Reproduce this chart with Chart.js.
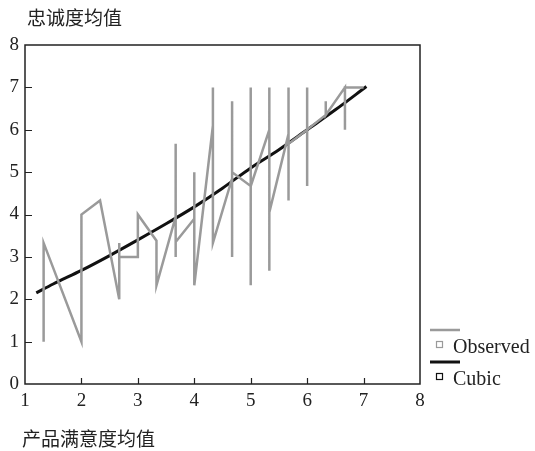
<!DOCTYPE html>
<html>
<head>
<meta charset="utf-8">
<script src="https://cdn.jsdelivr.net/npm/chart.js@4.4.1/dist/chart.umd.min.js"></script>
<style>
  html, body { margin: 0; padding: 0; background: #fff; }
  #wrap { width: 535px; height: 451px; position: relative; }
</style>
</head>
<body>
<div id="wrap"><canvas id="chart" width="535" height="451"></canvas></div>
<script>
// Observed means (x = product satisfaction mean, y = loyalty mean), in plotting order
const obsX = [1.33, 1.33, 2, 2, 2.33, 2.67, 2.67, 2.67, 3, 3, 3.33, 3.33,
              3.67, 3.67, 3.67, 3.67, 4, 4, 4, 4.33, 4.33, 4.33,
              4.67, 4.67, 4.67, 4.67, 5, 5, 5, 5, 5.33, 5.33, 5.33, 5.33,
              5.67, 5.67, 5.67, 5.67, 6, 6, 6, 6, 6.33, 6.33, 6.33,
              6.67, 6.67, 6.67, 7];
const obsY = [1.0, 3.33, 1.0, 4.0, 4.33, 2.0, 3.33, 3.0, 3.0, 4.0, 3.38, 2.33,
              3.95, 5.67, 3.0, 3.35, 3.9, 5.0, 2.33, 6.1, 7.0, 3.33,
              4.85, 6.67, 3.0, 5.0, 4.67, 7.0, 2.33, 4.67, 6.0, 7.0, 2.67, 4.05,
              5.9, 7.0, 4.33, 5.67, 6.0, 7.0, 4.67, 6.0, 6.35, 6.67, 6.35,
              7.0, 6.0, 7.0, 7.0];

// Cubic fit
const cubicX = [1.2, 1.5, 2, 2.5, 3, 3.5, 4, 4.5, 5, 5.5, 6, 6.5, 7.05];
const cubicY = [2.15, 2.36, 2.68, 3.03, 3.4, 3.78, 4.18, 4.62, 5.1, 5.53, 6.0, 6.47, 7.02];

const xTicks = [1, 2, 3, 4, 5, 6, 7, 8];
const yTicks = [0, 1, 2, 3, 4, 5, 6, 7, 8];

const yTitle = '忠诚度均值';
const xTitle = '产品满意度均值';
const legendNames = ['Observed', 'Cubic'];

const observedColor = '#9a9a9a';
const cubicColor = '#111111';
const numFont = '"Liberation Serif", "DejaVu Serif", serif';
const cjkFont = '"Noto Sans CJK SC", sans-serif';

const toPoints = (xs, ys) => xs.map((x, i) => ({ x: x, y: ys[i] }));

// frame, inner tick marks, titles and legend
const decorPlugin = {
    id: 'decor',
    afterDraw(chart) {
        const ctx = chart.ctx;
        const a = chart.chartArea;
        const xs = chart.scales.x;
        const ys = chart.scales.y;
        ctx.save();

        // inner tick marks
        ctx.strokeStyle = '#222';
        ctx.lineWidth = 1.2;
        ctx.beginPath();
        yTicks.slice(1, -1).forEach(v => {
            const py = Math.round(ys.getPixelForValue(v)) + 0.5;
            ctx.moveTo(a.left, py);
            ctx.lineTo(a.left + 7, py);
        });
        xTicks.slice(1, -1).forEach(v => {
            const px = Math.round(xs.getPixelForValue(v)) + 0.5;
            ctx.moveTo(px, a.bottom);
            ctx.lineTo(px, a.bottom - 6);
        });
        ctx.stroke();

        // frame
        ctx.lineWidth = 1.5;
        ctx.strokeRect(a.left, a.top, a.right - a.left, a.bottom - a.top);

        // titles
        ctx.fillStyle = '#222';
        ctx.font = '19px ' + cjkFont;
        ctx.textAlign = 'left';
        ctx.textBaseline = 'middle';
        ctx.fillText(yTitle, 27, 18);
        ctx.fillText(xTitle, 22, 439);

        // legend
        const lx = a.right + 10;
        const ds = chart.data.datasets;
        ds.forEach((d, i) => {
            const top = a.bottom - 54 + i * 32;
            ctx.strokeStyle = d.borderColor;
            ctx.lineWidth = i === 0 ? 2.5 : 3;
            ctx.beginPath();
            ctx.moveTo(lx, top);
            ctx.lineTo(lx + 30, top);
            ctx.stroke();
            ctx.lineWidth = 1.2;
            ctx.strokeRect(lx + 6.5, top + 11.5, 6, 6);
            ctx.fillStyle = '#222';
            ctx.font = '20px ' + numFont;
            ctx.textBaseline = 'middle';
            ctx.fillText(legendNames[i], lx + 23, top + 18);
        });
        ctx.restore();
    }
};

const ctx = document.getElementById('chart').getContext('2d');
const chart = new Chart(ctx, {
    type: 'scatter',
    data: {
        datasets: [
            {
                label: legendNames[0],
                data: toPoints(obsX, obsY),
                showLine: true,
                borderColor: observedColor,
                borderWidth: 2.5,
                pointRadius: 0,
                tension: 0
            },
            {
                label: legendNames[1],
                data: toPoints(cubicX, cubicY),
                showLine: true,
                borderColor: cubicColor,
                borderWidth: 3,
                pointRadius: 0,
                cubicInterpolationMode: 'monotone'
            }
        ]
    },
    options: {
        responsive: false,
        animation: false,
        layout: { padding: { top: 45, right: 115, left: 0, bottom: 0 } },
        plugins: {
            legend: { display: false },
            tooltip: { enabled: false }
        },
        scales: {
            x: {
                type: 'linear',
                min: 1,
                max: 8,
                grid: { display: false, drawTicks: false },
                border: { display: false },
                ticks: {
                    stepSize: 1,
                    padding: 6,
                    color: '#222',
                    font: { family: numFont, size: 19 }
                },
                afterFit(scale) { scale.height = 67; }
            },
            y: {
                type: 'linear',
                min: 0,
                max: 8,
                grid: { display: false, drawTicks: false },
                border: { display: false },
                ticks: {
                    stepSize: 1,
                    padding: 6,
                    color: '#222',
                    font: { family: numFont, size: 19 }
                },
                afterFit(scale) { scale.width = 25; }
            }
        }
    },
    plugins: [decorPlugin]
});
</script>
</body>
</html>
